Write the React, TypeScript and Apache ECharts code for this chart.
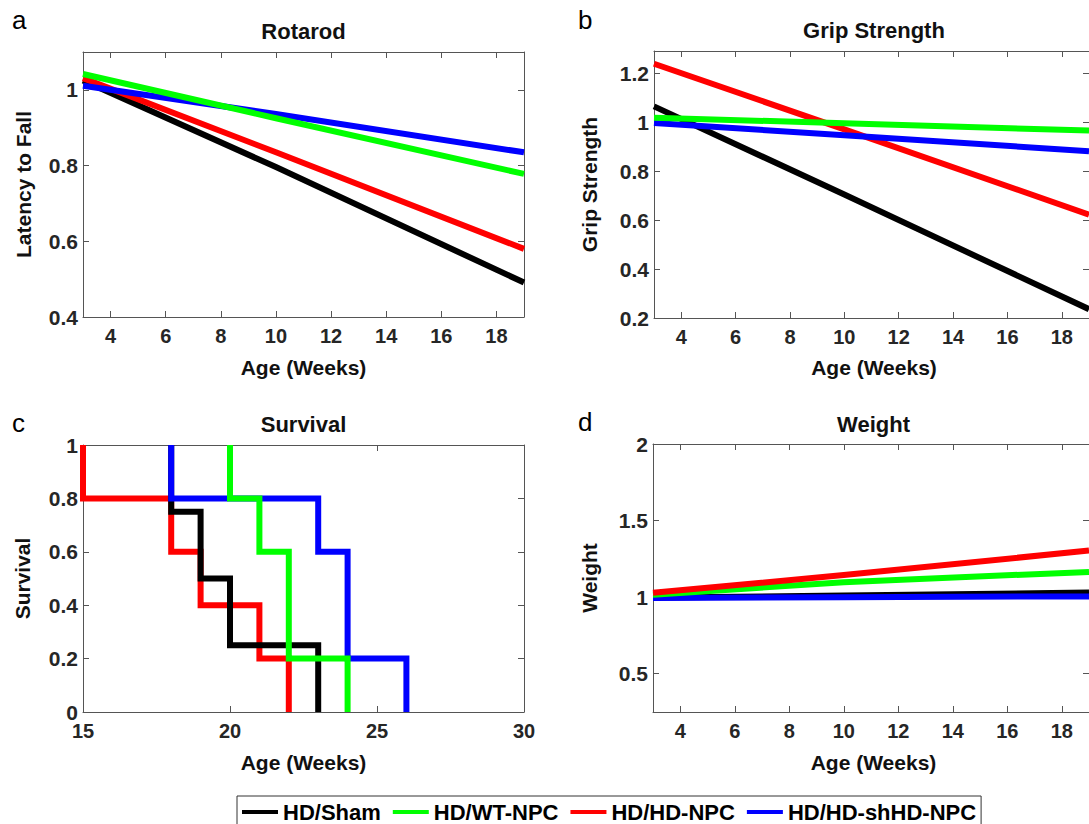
import React, { useEffect, useRef } from 'react';
import * as echarts from 'echarts';

// ---------- data ----------
const groups = ['HD/Sham', 'HD/WT-NPC', 'HD/HD-NPC', 'HD/HD-shHD-NPC'];
const groupColors = ['#000000', '#00ff00', '#ff0000', '#0000ff'];

const fitWeeks = [3, 10, 19];
// order: HD/Sham, HD/WT-NPC, HD/HD-NPC, HD/HD-shHD-NPC
const rotarodValues = [
  [1.025, 0.796, 0.491],
  [1.042, 0.925, 0.778],
  [1.031, 0.835, 0.58],
  [1.011, 0.936, 0.835],
];
const gripValues = [
  [1.064, 0.704, 0.236],
  [1.018, 0.995, 0.965],
  [1.238, 0.97, 0.622],
  [0.996, 0.946, 0.881],
];
const weightValues = [
  [0.997, 1.01, 1.03],
  [1.015, 1.098, 1.165],
  [1.029, 1.144, 1.304],
  [0.995, 1.0, 1.005],
];

const survivalTimes = [
  [18, 18, 19, 20, 23],
  [20, 20, 21, 22, 24],
  [15, 15, 18, 19, 21, 22],
  [18, 18, 23, 24, 26],
];
const survivalValues = [
  [1, 0.75, 0.5, 0.25, 0],
  [1, 0.8, 0.6, 0.2, 0],
  [1, 0.8, 0.6, 0.4, 0.2, 0],
  [1, 0.8, 0.6, 0.2, 0],
];

const weekTicks = [4, 6, 8, 10, 12, 14, 16, 18];
const rotarodTicks = [0.4, 0.6, 0.8, 1];
const gripTicks = [0.2, 0.4, 0.6, 0.8, 1, 1.2];
const survivalXTicks = [15, 20, 25, 30];
const survivalYTicks = [0, 0.2, 0.4, 0.6, 0.8, 1];
const weightTicks = [0.5, 1, 1.5, 2];

// ---------- layout / style ----------
const FONT = '"Liberation Sans", Arial, Helvetica, sans-serif';
const AXIS_COLOR = '#555555';
const TEXT_COLOR = '#262626';

type Panel = {
  grid: { left: number; top: number; width: number; height: number };
  x: [number, number];
  xTicks: number[];
  y: [number, number];
  yTicks: number[];
  kind: 'fit' | 'survival';
  values?: number[][];
  order: number[];
};

const panels: Panel[] = [
  { grid: { left: 83, top: 52, width: 441, height: 265 }, x: [3, 19], xTicks: weekTicks, y: [0.4, 1.1], yTicks: rotarodTicks, kind: 'fit', values: rotarodValues, order: [0, 2, 3, 1] },
  { grid: { left: 654, top: 51, width: 440, height: 267 }, x: [3, 19], xTicks: weekTicks, y: [0.2, 1.29], yTicks: gripTicks, kind: 'fit', values: gripValues, order: [0, 2, 3, 1] },
  { grid: { left: 83, top: 445, width: 441, height: 267 }, x: [15, 30], xTicks: survivalXTicks, y: [0, 1], yTicks: survivalYTicks, kind: 'survival', order: [2, 0, 3, 1] },
  { grid: { left: 653, top: 444, width: 441, height: 268 }, x: [3, 19], xTicks: weekTicks, y: [0.25, 2], yTicks: weightTicks, kind: 'fit', values: weightValues, order: [0, 3, 1, 2] },
];

function buildOption() {
  const grid: any[] = [];
  const xAxis: any[] = [];
  const yAxis: any[] = [];
  const series: any[] = [];

  const line = { show: true, onZero: false, lineStyle: { color: AXIS_COLOR, width: 1 } };

  panels.forEach((p, pi) => {
    grid.push({ ...p.grid, containLabel: false });
    const tick = (vals: number[]) => ({ show: true, inside: true, length: 6, customValues: vals, lineStyle: { color: AXIS_COLOR, width: 1 } });
    xAxis.push({
      type: 'value', gridIndex: pi, position: 'bottom', min: p.x[0], max: p.x[1],
      axisLine: line, axisTick: tick(p.xTicks), splitLine: { show: false },
      axisLabel: { customValues: p.xTicks, fontSize: 20, fontWeight: 'bold', color: TEXT_COLOR, fontFamily: FONT, margin: 9 },
    });
    xAxis.push({
      type: 'value', gridIndex: pi, position: 'top', min: p.x[0], max: p.x[1],
      axisLine: line, axisTick: tick(p.xTicks), splitLine: { show: false }, axisLabel: { show: false },
    });
    yAxis.push({
      type: 'value', gridIndex: pi, position: 'left', min: p.y[0], max: p.y[1],
      axisLine: line, axisTick: tick(p.yTicks), splitLine: { show: false },
      axisLabel: { customValues: p.yTicks, fontSize: 21, fontWeight: 'bold', color: TEXT_COLOR, fontFamily: FONT, margin: 5 },
    });
    yAxis.push({
      type: 'value', gridIndex: pi, position: 'right', min: p.y[0], max: p.y[1],
      axisLine: line, axisTick: tick(p.yTicks), splitLine: { show: false }, axisLabel: { show: false },
    });

    p.order.forEach((g) => {
      let data: number[][];
      if (p.kind === 'fit') {
        data = fitWeeks.map((w, i) => [w, p.values![g][i]]);
      } else {
        data = survivalTimes[g].map((t, i) => [t, survivalValues[g][i]]);
      }
      series.push({
        type: 'line', name: groups[g], xAxisIndex: pi * 2, yAxisIndex: pi * 2,
        data, showSymbol: false, symbol: 'none',
        step: p.kind === 'survival' ? 'end' : false,
        lineStyle: { color: groupColors[g], width: 6, cap: 'butt', join: 'miter' },
        itemStyle: { color: groupColors[g] },
        emphasis: { disabled: true },
        clip: true,
      });
    });
  });

  const txt = (x: number, y: number, text: string, size: number, bold: boolean, align = 'center', rotation = 0) => ({
    type: 'text', x, y, rotation, silent: true,
    style: {
      text, fill: bold ? '#111' : '#000', fontSize: size, fontWeight: bold ? 'bold' : 'normal', fontFamily: FONT,
      align, textAlign: align, verticalAlign: 'middle', textVerticalAlign: 'middle',
    },
  });

  const graphic = [
    txt(12, 20, 'a', 26, false, 'left'),
    txt(578, 20, 'b', 26, false, 'left'),
    txt(12, 423, 'c', 26, false, 'left'),
    txt(578, 422, 'd', 26, false, 'left'),
    txt(303.5, 31, 'Rotarod', 22, true),
    txt(874, 30, 'Grip Strength', 22, true),
    txt(303.5, 424, 'Survival', 22, true),
    txt(873.5, 424, 'Weight', 22, true),
    txt(303.5, 367, 'Age (Weeks)', 21, true),
    txt(874, 367, 'Age (Weeks)', 21, true),
    txt(303.5, 762, 'Age (Weeks)', 21, true),
    txt(873.5, 762, 'Age (Weeks)', 21, true),
    txt(23, 184.5, 'Latency to Fall', 21, true, 'center', Math.PI / 2),
    txt(589, 184.5, 'Grip Strength', 21, true, 'center', Math.PI / 2),
    txt(22, 578.5, 'Survival', 21, true, 'center', Math.PI / 2),
    txt(589, 578, 'Weight', 21, true, 'center', Math.PI / 2),
  ];

  return {
    animation: false,
    backgroundColor: '#ffffff',
    grid, xAxis, yAxis, series, graphic,
    legend: {
      data: groups, left: 237, top: 796, orient: 'horizontal',
      icon: 'rect', itemWidth: 36, itemHeight: 4, itemGap: 12,
      padding: [5, 5, 7, 5], borderColor: '#333333', borderWidth: 1, borderRadius: 0,
      selectedMode: false,
      textStyle: { fontSize: 22, fontWeight: 'bold', color: '#000', fontFamily: FONT },
    },
  };
}

export default function App() {
  const ref = useRef<HTMLDivElement>(null);
  useEffect(() => {
    if (!ref.current) return;
    const chart = echarts.init(ref.current, null, { renderer: 'svg' });
    chart.setOption(buildOption() as any);
    return () => chart.dispose();
  }, []);
  return (
    <div
      ref={ref}
      style={{ position: 'fixed', left: 0, top: 0, width: 1089, height: 824, background: '#fff', overflow: 'hidden' }}
    />
  );
}
